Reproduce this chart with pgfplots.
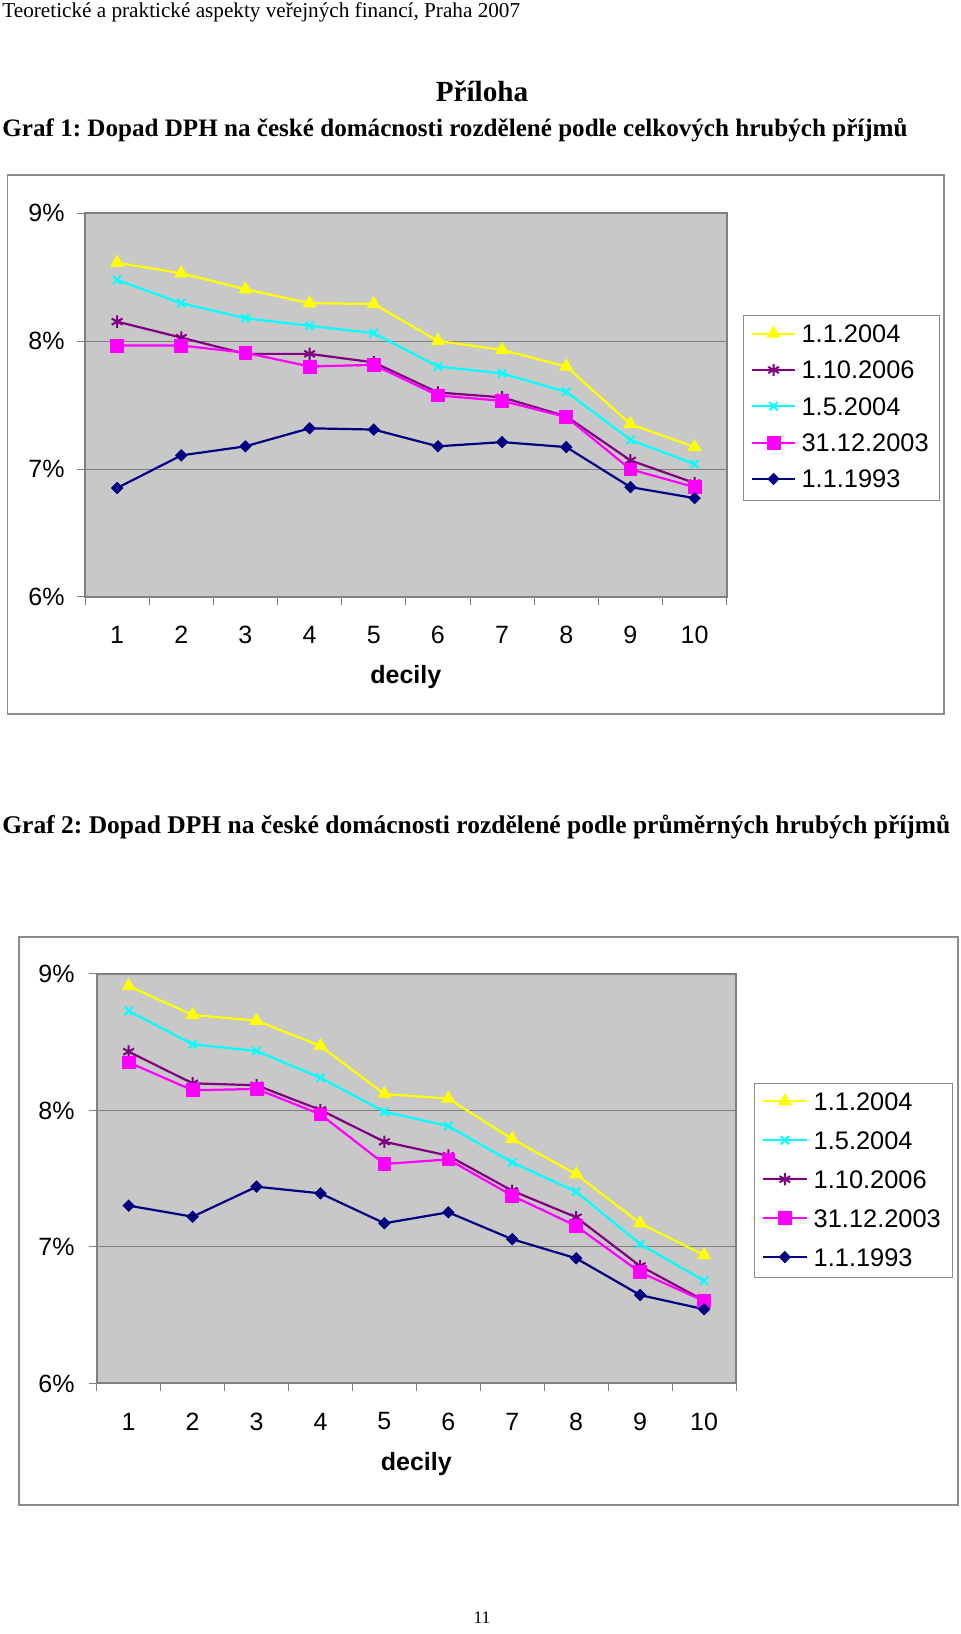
\documentclass[border=0pt]{standalone}
\usepackage{pgfplots}
\pgfplotsset{compat=1.18}
\usepackage{fontspec}
\setmainfont{Liberation Serif}
\newfontfamily\arialfont{Liberation Sans}
\newcommand\cf{\arialfont\fontsize{12.5}{15}\selectfont}
\newcommand\lf{\arialfont\fontsize{12.7}{15}\selectfont}
\frenchspacing
\definecolor{cYel}{RGB}{255,255,0}
\definecolor{cPur}{RGB}{128,0,128}
\definecolor{cCya}{RGB}{0,255,255}
\definecolor{cMag}{RGB}{255,0,255}
\definecolor{cNav}{RGB}{0,0,128}
\definecolor{plotgrey}{RGB}{200,200,200}
\definecolor{axisgrey}{RGB}{128,128,128}
\definecolor{gridgrey}{RGB}{128,128,128}
\definecolor{framegrey}{RGB}{140,140,140}
\pgfplotsset{
  excelchart/.style={
    scale only axis,
    xmin=0.5, xmax=10.5, ymin=6, ymax=9,
    axis background/.style={fill=plotgrey},
    axis line style={draw=axisgrey, line width=1pt},
    xtick={1,...,10},
    xticklabels={1,2,3,4,5,6,7,8,9,10},
    minor xtick={0.5,1.5,...,10.5},
    ytick={6,7,8,9},
    yticklabels={6\%,7\%,8\%,9\%},
    xtick pos=bottom, ytick pos=left,
    tick align=outside,
    major tick length=4pt,
    minor tick length=4pt,
    major x tick style={draw=none},
    minor x tick style={draw=axisgrey, line width=0.5pt},
    major y tick style={draw=axisgrey, line width=0.5pt},
    ymajorgrids,
    grid style={draw=gridgrey, line width=0.5pt},
    tick label style={font=\cf},
    xticklabel style={anchor=center, inner sep=0pt, yshift=-15pt},
    every axis x label/.style={at={(axis description cs:0.5,0)}, anchor=center, font=\cf\bfseries},
    legend cell align=left,
    legend image code/.code={\draw[mark repeat=2,mark phase=2,#1] plot coordinates {(0pt,0.8pt) (10.9pt,0.8pt) (21.8pt,0.8pt)};},
    every axis plot/.append style={line width=1.1pt},
  },
  sA/.style={color=cYel, mark=triangle*, mark size=3.7pt, mark options={solid, line width=0.4pt, fill=cYel}},
  sB/.style={color=cPur, mark=asterisk, mark size=3.1pt, mark options={solid, line width=1pt}},
  sC/.style={color=cCya, mark=x, mark size=2.9pt, mark options={solid, line width=1pt}},
  sD/.style={color=cMag, mark=square*, mark size=3.2pt, mark options={solid, line width=0.4pt, fill=cMag}},
  sE/.style={color=cNav, mark=square*, mark size=2.0pt, mark options={solid, rotate=45, line width=0.4pt, fill=cNav}},
}
\begin{document}
\begin{tikzpicture}
\path[use as bounding box, fill=white] (0pt,0pt) rectangle (480pt,817pt);
% page texts
\node[anchor=base west, inner sep=0pt, font=\fontsize{10.6}{12}\selectfont] at (1pt,808pt) {Teoretické a praktické aspekty veřejných financí, Praha 2007};
\node[anchor=base, inner sep=0pt, font=\fontsize{14.6}{17}\selectfont\bfseries] at (241pt,766.2pt) {Příloha};
\node[anchor=base west, inner sep=0pt, font=\fontsize{12.55}{15}\selectfont\bfseries] at (1pt,748.6pt) {Graf 1: Dopad DPH na české domácnosti rozdělené podle celkových hrubých příjmů};
\node[anchor=base west, inner sep=0pt, font=\fontsize{12.75}{15}\selectfont\bfseries] at (1pt,400.4pt) {Graf 2: Dopad DPH na české domácnosti rozdělené podle průměrných hrubých příjmů};
\node[anchor=base, inner sep=0pt, font=\fontsize{8.8}{10}\selectfont] at (241pt,5.4pt) {11};
% chart frames
\draw[framegrey, line width=0.8pt] (3.75pt,460pt) rectangle (472pt,729.5pt);
\draw[framegrey, line width=0.8pt] (9.5pt,64.5pt) rectangle (478.85pt,348.35pt);

% ---------- Chart 1 ----------
\begin{axis}[excelchart,
  at={(42.5pt,518.5pt)}, anchor=south west,
  width=320.85pt, height=191.85pt,
  yticklabel style={anchor=east, inner sep=0pt, xshift=-6pt},
  xlabel={decily},
  xlabel style={yshift=-39.85pt},
  legend style={at={(axis description cs:1.0259,0.7345)}, anchor=north west,
    draw=framegrey, line width=0.5pt, fill=white, font=\lf,
    inner xsep=3.4pt, inner ysep=2.6pt, row sep=3.8pt,
    /tikz/every odd column/.append style={column sep=0.6pt}},
]
\addplot[sA] coordinates {(1,8.614) (2,8.531) (3,8.406) (4,8.297) (5,8.291) (6,8.002) (7,7.932) (8,7.802) (9,7.352) (10,7.172)};
\addlegendentry{1.1.2004}
\addplot[sB] coordinates {(1,8.153) (2,8.028) (3,7.901) (4,7.901) (5,7.834) (6,7.599) (7,7.561) (8,7.412) (9,7.068) (10,6.891)};
\addlegendentry{1.10.2006}
\addplot[sC] coordinates {(1,8.479) (2,8.297) (3,8.180) (4,8.120) (5,8.063) (6,7.802) (7,7.748) (8,7.604) (9,7.229) (10,7.039)};
\addlegendentry{1.5.2004}
\addplot[sD] coordinates {(1,7.966) (2,7.966) (3,7.910) (4,7.802) (5,7.815) (6,7.576) (7,7.534) (8,7.407) (9,6.998) (10,6.859)};
\addlegendentry{31.12.2003}
\addplot[sE] coordinates {(1,6.852) (2,7.107) (3,7.178) (4,7.319) (5,7.309) (6,7.178) (7,7.211) (8,7.172) (9,6.859) (10,6.773)};
\addlegendentry{1.1.1993}
\end{axis}

% ---------- Chart 2 ----------
\begin{axis}[excelchart,
  at={(48.35pt,125.25pt)}, anchor=south west,
  width=319.65pt, height=204.75pt,
  yticklabel style={anchor=east, inner sep=0pt, xshift=-6.85pt},
  xlabel={decily},
  xlabel style={yshift=-40.25pt},
  legend style={at={(axis description cs:1.0282,0.7331)}, anchor=north west,
    draw=framegrey, line width=0.5pt, fill=white, font=\lf,
    inner xsep=3.7pt, inner ysep=2.4pt, row sep=5.1pt,
    /tikz/every odd column/.append style={column sep=1pt}},
]
\addplot[sA] coordinates {(1,8.912) (2,8.700) (3,8.658) (4,8.473) (5,8.121) (6,8.087) (7,7.791) (8,7.533) (9,7.174) (10,6.941)};
\addlegendentry{1.1.2004}
\addplot[sC] coordinates {(1,8.729) (2,8.485) (3,8.436) (4,8.240) (5,7.991) (6,7.886) (7,7.620) (8,7.405) (9,7.022) (10,6.753)};
\addlegendentry{1.5.2004}
\addplot[sB] coordinates {(1,8.431) (2,8.199) (3,8.185) (4,8.004) (5,7.771) (6,7.669) (7,7.412) (8,7.218) (9,6.861) (10,6.607)};
\addlegendentry{1.10.2006}
\addplot[sD] coordinates {(1,8.353) (2,8.148) (3,8.158) (4,7.972) (5,7.608) (6,7.642) (7,7.376) (8,7.154) (9,6.815) (10,6.604)};
\addlegendentry{31.12.2003}
\addplot[sE] coordinates {(1,7.303) (2,7.222) (3,7.442) (4,7.393) (5,7.174) (6,7.254) (7,7.057) (8,6.917) (9,6.648) (10,6.544)};
\addlegendentry{1.1.1993}
\end{axis}
\end{tikzpicture}
\end{document}
